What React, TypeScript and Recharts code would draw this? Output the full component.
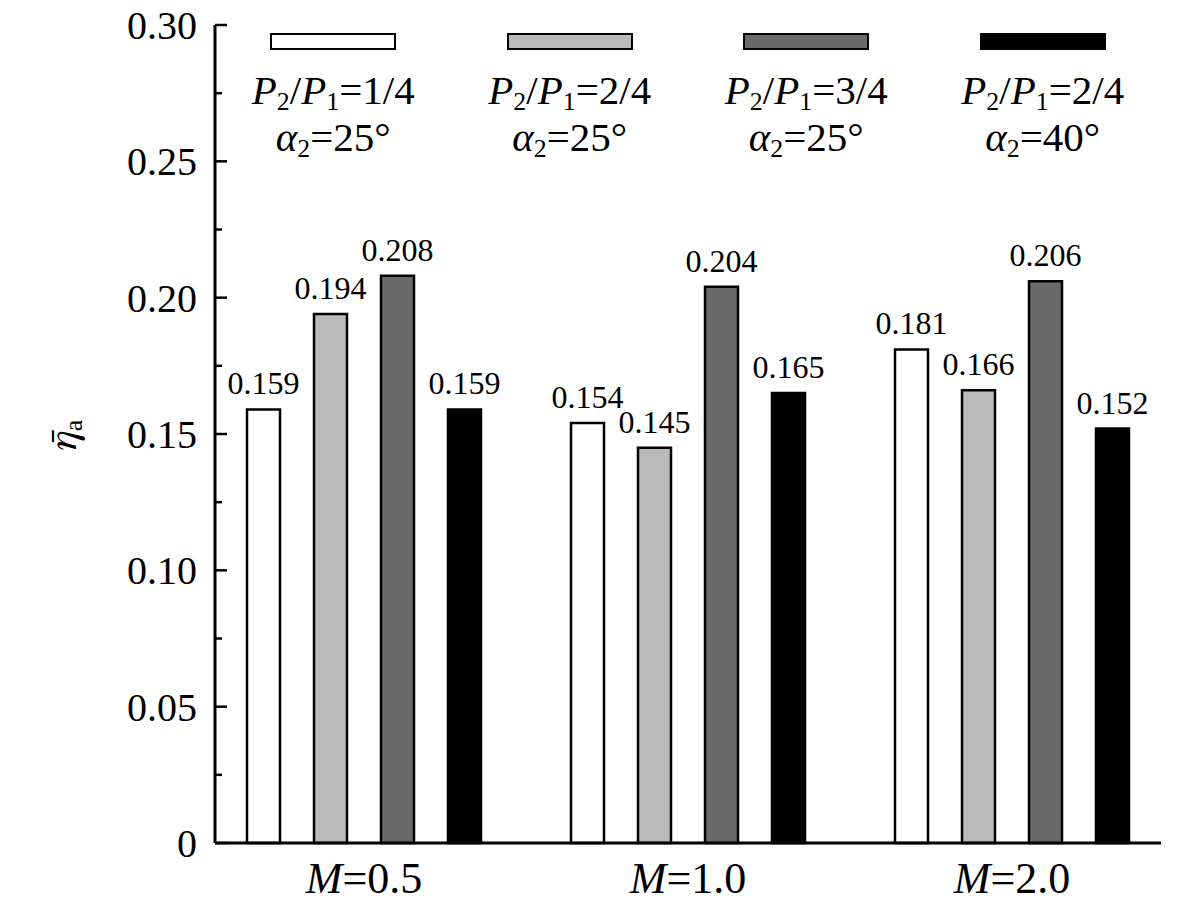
import React from "react";
import {
  BarChart,
  Bar,
  XAxis,
  YAxis,
  Legend,
  LabelList,
} from "recharts";

const FONT = "'Liberation Serif', 'Times New Roman', serif";

// groups along the x axis (Mach number)
const groups = ["0.5", "1.0", "2.0"];

// mean efficiency per configuration
const ratio14a25 = [0.159, 0.154, 0.181];
const ratio24a25 = [0.194, 0.145, 0.166];
const ratio34a25 = [0.208, 0.204, 0.206];
const ratio24a40 = [0.159, 0.165, 0.152];

// legend texts
const ratioLabels = ["1/4", "2/4", "3/4", "2/4"];
const angleLabels = ["25°", "25°", "25°", "40°"];
const fills = ["#ffffff", "#bababa", "#6a6a6a", "#000000"];
const seriesKeys = ["s1", "s2", "s3", "s4"];

// y ticks: majors every 0.05, minors in between
const yTicks = [0, 0.025, 0.05, 0.075, 0.1, 0.125, 0.15, 0.175, 0.2, 0.225, 0.25, 0.275, 0.3];

const data = groups.map((g, i) => ({
  group: g,
  s1: ratio14a25[i],
  s2: ratio24a25[i],
  s3: ratio34a25[i],
  s4: ratio24a40[i],
}));

const TICK_MARGIN = 18;

const YTick = (props: any) => {
  const { x, y, payload } = props;
  const v = payload.value as number;
  const major = Math.round(v * 1000) % 50 === 0;
  const axisX = x + TICK_MARGIN;
  return (
    <g>
      <line x1={axisX} x2={axisX + (major ? 12 : 7)} y1={y} y2={y} stroke="#000" strokeWidth={2.5} />
      {major && (
        <text x={x} y={y} dy="0.35em" textAnchor="end" fontFamily={FONT} fontSize={40} fill="#000">
          {v === 0 ? "0" : v.toFixed(2)}
        </text>
      )}
    </g>
  );
};

const XTick = (props: any) => {
  const { x, y, payload } = props;
  return (
    <text x={x} y={y + 50} textAnchor="middle" fontFamily={FONT} fontSize={44} fill="#000">
      <tspan fontStyle="italic">M</tspan>
      <tspan>={payload.value}</tspan>
    </text>
  );
};

// FreeSerif places the combining macron over eta properly
const YLabel = (props: any) => {
  const { viewBox } = props;
  const cx = viewBox.x + 76;
  const cy = viewBox.y + viewBox.height / 2 + 2;
  return (
    <text
      transform={`translate(${cx}, ${cy}) rotate(-90)`}
      textAnchor="middle"
      fontFamily={"FreeSerif, " + FONT}
      fontSize={42}
      fill="#000"
    >
      <tspan fontStyle="italic">η̄</tspan>
      <tspan fontFamily={FONT} fontSize={26} dy={6}>a</tspan>
    </text>
  );
};

const Sub = ({ children }: { children: React.ReactNode }) => (
  <span style={{ fontSize: "0.63em", position: "relative", top: 6, lineHeight: 1 }}>{children}</span>
);

const LegendBlock = () => (
  <div style={{ display: "flex", width: "100%", fontFamily: FONT, color: "#000" }}>
    {fills.map((fill, i) => (
      <div key={i} style={{ flex: 1, display: "flex", flexDirection: "column", alignItems: "center" }}>
        <div
          style={{
            width: 126,
            height: 17,
            marginTop: 8,
            boxSizing: "border-box",
            border: "2.5px solid #000",
            background: fill,
          }}
        />
        <div style={{ fontSize: 41, lineHeight: "40px", textAlign: "center", whiteSpace: "nowrap" }}>
          <div style={{ marginTop: 20 }}>
            <i>P</i>
            <Sub>2</Sub>/<i>P</i>
            <Sub>1</Sub>={ratioLabels[i]}
          </div>
          <div style={{ marginTop: 7 }}>
            <i>α</i>
            <Sub>2</Sub>={angleLabels[i]}
          </div>
        </div>
      </div>
    ))}
  </div>
);

export default function App() {
  return (
    <div style={{ position: "absolute", left: 0, top: 0, background: "#fff" }}>
      <BarChart
        width={1181}
        height={907}
        data={data}
        margin={{ top: 25, right: 20, bottom: 0, left: 0 }}
        barSize={33}
        barGap={34}
      >
        <XAxis
          dataKey="group"
          height={64}
          padding={{ left: -13, right: -13 }}
          axisLine={{ stroke: "#000", strokeWidth: 3 }}
          tickLine={false}
          tickSize={0}
          tickMargin={0}
          tick={<XTick />}
          interval={0}
        />
        <XAxis
          xAxisId="top"
          dataKey="group"
          orientation="top"
          height={0}
          axisLine={{ stroke: "#000", strokeWidth: 3 }}
          tickLine={false}
          tick={false}
        />
        <YAxis
          width={215}
          domain={[0, 0.3]}
          ticks={yTicks}
          interval={0}
          axisLine={{ stroke: "#000", strokeWidth: 3 }}
          tickLine={false}
          tickSize={0}
          tickMargin={TICK_MARGIN}
          tick={<YTick />}
          label={{ content: <YLabel /> }}
        />
        <YAxis
          yAxisId="right"
          orientation="right"
          width={0}
          domain={[0, 0.3]}
          axisLine={{ stroke: "#000", strokeWidth: 3 }}
          tickLine={false}
          tick={false}
        />
        <Legend
          verticalAlign="middle"
          align="center"
          layout="horizontal"
          wrapperStyle={{ top: 25, left: 215, width: 946, height: 140 }}
          content={<LegendBlock />}
        />
        {seriesKeys.map((key, i) => (
          <Bar
            key={key}
            dataKey={key}
            fill={fills[i]}
            stroke="#000"
            strokeWidth={2.5}
            isAnimationActive={false}
          >
            <LabelList
              dataKey={key}
              position="top"
              offset={15}
              formatter={(v: any) => Number(v).toFixed(3)}
              style={{ fontFamily: FONT, fontSize: 32, fill: "#000" }}
            />
          </Bar>
        ))}
      </BarChart>
    </div>
  );
}
